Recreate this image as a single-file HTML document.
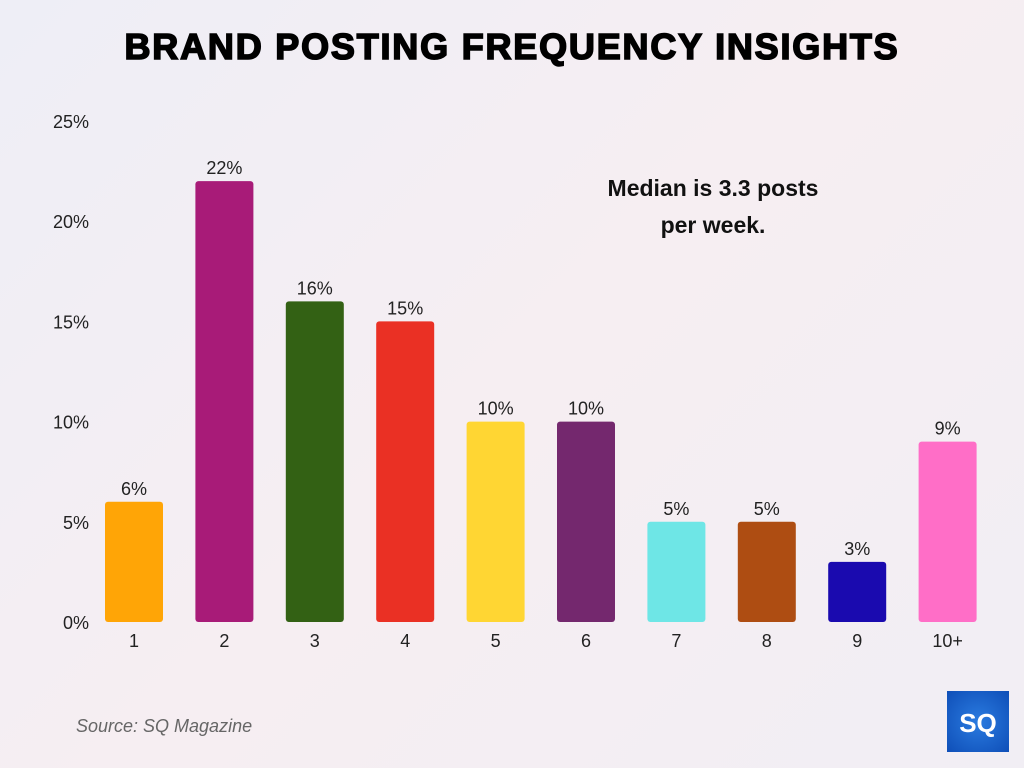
<!DOCTYPE html>
<html><head><meta charset="utf-8"><style>
body{margin:0;width:1024px;height:768px;overflow:hidden;font-family:"Liberation Sans",sans-serif;background:linear-gradient(135deg,#eeeef6 0%,#f6eef2 50%,#f1eef4 100%);}
svg{position:absolute;left:0;top:0}
</style></head><body>
<svg width="1024" height="768">
<text x="512" y="59" text-anchor="middle" font-size="36" font-weight="900" fill="#000" stroke="#000" stroke-width="1.6" letter-spacing="1.8" style="font-family:'Liberation Sans',sans-serif">BRAND POSTING FREQUENCY INSIGHTS</text>
<text x="713" y="196" text-anchor="middle" font-size="23" font-weight="bold" fill="#111">Median is 3.3 posts</text>
<text x="713" y="233" text-anchor="middle" font-size="23" font-weight="bold" fill="#111">per week.</text>
<g id="yaxis"></g><g id="bars"></g>
<text x="76" y="732" font-size="18" font-style="italic" fill="#666">Source: SQ Magazine</text>
<defs><radialGradient id="lg" cx="50%" cy="50%" r="70%"><stop offset="0" stop-color="#2a7be0"/><stop offset="1" stop-color="#0f4fb8"/></radialGradient></defs>
<rect x="947" y="691" width="62" height="61" fill="url(#lg)"/>
<text x="978" y="732" text-anchor="middle" font-size="26" font-weight="bold" fill="#fff">SQ</text>
</svg>
<script>
const categories=["1","2","3","4","5","6","7","8","9","10+"];
const values=[6,22,16,15,10,10,5,5,3,9];
const colors=["#FFA506","#A81B78","#336114","#EA3024","#FFD633","#74286E","#6EE6E6","#AE4D12","#1A0AAF","#FF6EC7"];
const yTicks=[0,5,10,15,20,25];
const NS="http://www.w3.org/2000/svg";
const y0=622,pxPer=20.04,x0=134,step=90.4,bw=58;
const ys=v=>y0-v*pxPer, xs=i=>x0+i*step;
function mk(t,a,p){const e=document.createElementNS(NS,t);for(const k in a)e.setAttribute(k,a[k]);p.appendChild(e);return e;}
const ya=document.getElementById('yaxis'),bg=document.getElementById('bars');
yTicks.forEach(v=>{const t=mk('text',{x:89,y:ys(v)+7,'text-anchor':'end','font-size':18,fill:'#222'},ya);t.textContent=v+'%';

});
values.forEach((v,i)=>{
const r=mk('rect',{x:xs(i)-bw/2,y:ys(v),width:bw,height:v*pxPer,rx:3,fill:colors[i]},bg);


const l=mk('text',{x:xs(i),y:ys(v)-7,'text-anchor':'middle','font-size':18,fill:'#222'},bg);l.textContent=v+'%';


const c=mk('text',{x:xs(i),y:647,'text-anchor':'middle','font-size':18,fill:'#222'},bg);c.textContent=categories[i];


});
</script>
</body></html>
